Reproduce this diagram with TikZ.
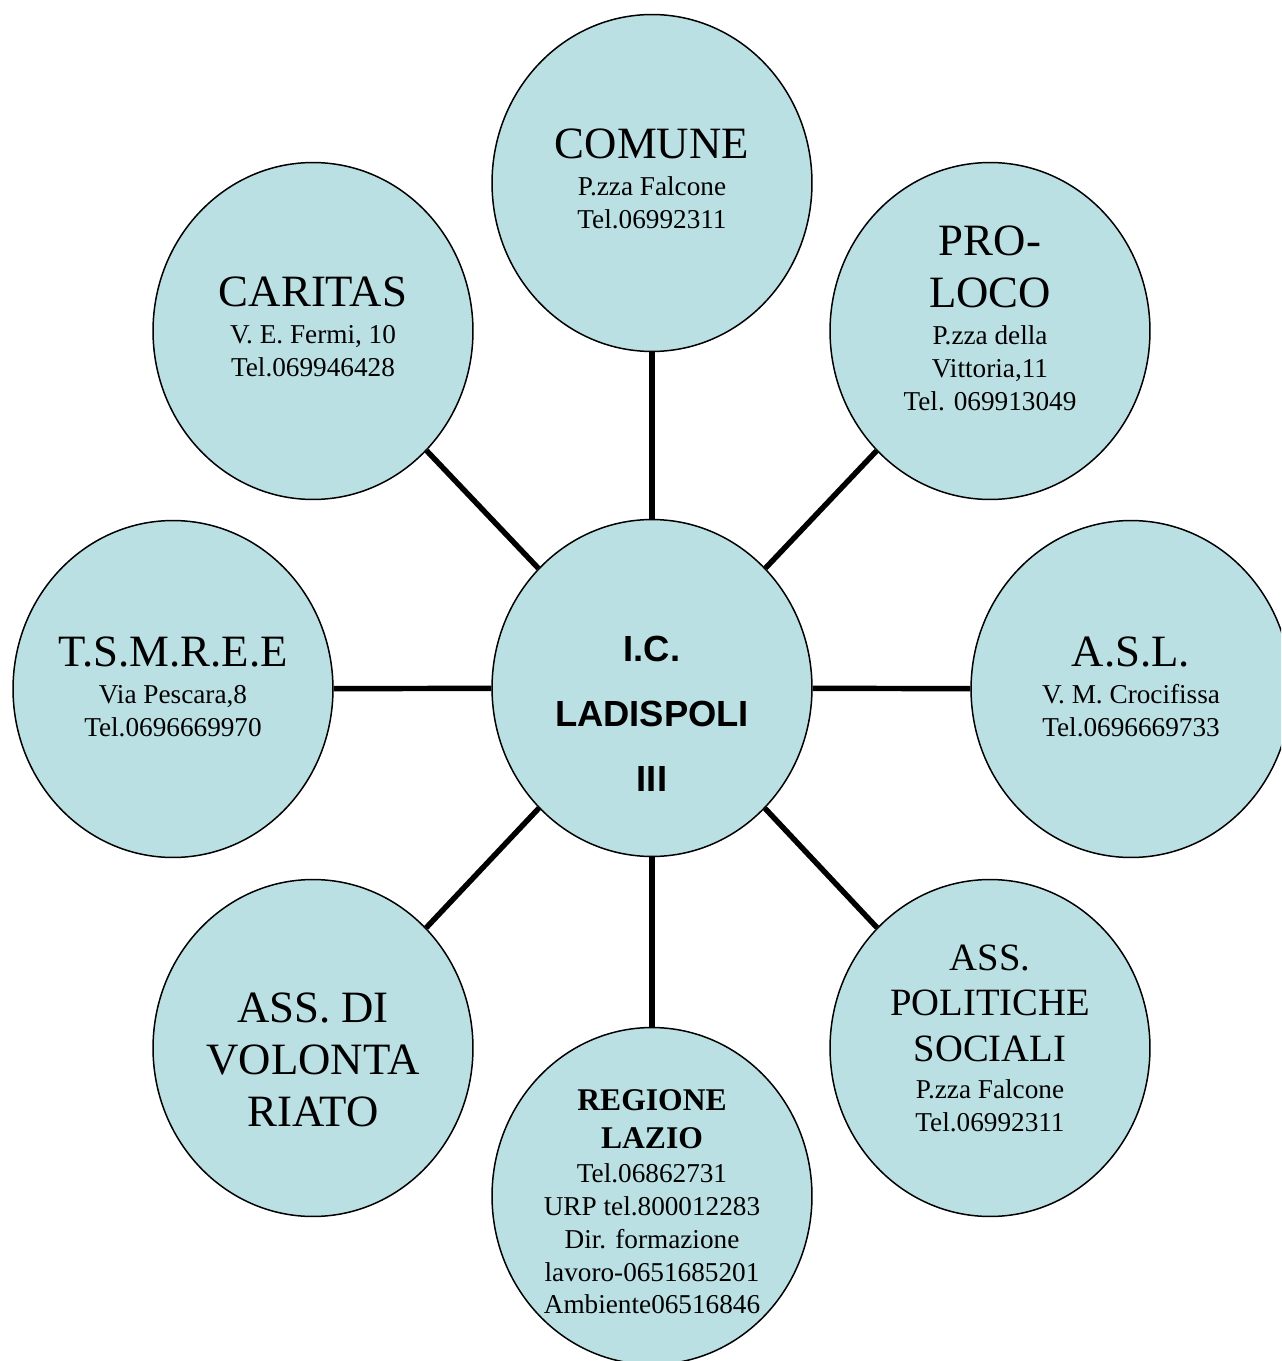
\documentclass[tikz,border=0pt]{standalone}
\usepackage{fontspec}
\setmainfont{Liberation Serif}
\newfontfamily\arial{Liberation Sans}
\usetikzlibrary{shapes.geometric}
\definecolor{acqua}{HTML}{BBE0E3}
\tikzset{
  bolla/.style={ellipse, draw, line width=0.85pt, fill=acqua, inner sep=0pt,
    minimum width=6.4cm, minimum height=6.74cm},
  testo/.style={align=center, inner sep=0pt, font=\fontsize{15.5}{18.7}\selectfont},
  legame/.style={line width=3.1pt}
}
\newcommand{\grande}[1]{{\fontsize{25.5}{29}\selectfont #1}}
\newcommand{\medio}[1]{{\fontsize{22}{26}\selectfont #1}}
\begin{document}
\begin{tikzpicture}[x=0.02cm, y=-0.02cm]
  \useasboundingbox (0,0) rectangle (1281,1361);
  \clip (0,0) rectangle (1281,1361);
  %bolle
  \node[bolla] (ic) at (652,688) {};
  \node[bolla] (comune) at (652,183) {};
  \node[bolla] (proloco) at (990,331) {};
  \node[bolla] (asl) at (1131,689) {};
  \node[bolla] (politiche) at (990,1048) {};
  \node[bolla] (regione) at (652,1196) {};
  \node[bolla] (volontariato) at (313,1048) {};
  \node[bolla] (tsmree) at (173,689) {};
  \node[bolla] (caritas) at (313,331) {};
  %collegamenti
  \draw[legame] (ic) -- (comune);
  \draw[legame] (ic) -- (proloco);
  \draw[legame] (ic) -- (asl);
  \draw[legame] (ic) -- (politiche);
  \draw[legame] (ic) -- (regione);
  \draw[legame] (ic) -- (volontariato);
  \draw[legame] (ic) -- (tsmree);
  \draw[legame] (ic) -- (caritas);
  %testi
  \node[testo, font=\arial\bfseries\fontsize{20.7}{37}\selectfont] (ic-t) at (652,714) {I.C.\\LADISPOLI\\III};
  \node[testo] (comune-t) at (652,179) {\grande{COMUNE}\\[2.3pt]P.zza Falcone\\Tel.06992311};
  \node[testo] (proloco-t) at (990,318) {\grande{PRO-}\\[11pt]\grande{LOCO}\\[2.3pt]P.zza della\\Vittoria,11\\Tel. 069913049};
  \node[testo] (asl-t) at (1131,687) {\grande{A.S.L.}\\[2.3pt]V. M. Crocifissa\\Tel.0696669733};
  \node[testo] (politiche-t) at (990,1038) {\medio{ASS.}\\[7.3pt]\medio{POLITICHE}\\[7.3pt]\medio{SOCIALI}\\[2.3pt]P.zza Falcone\\Tel.06992311};
  \node[testo] (regione-t) at (652,1202) {\textbf{\fontsize{18}{21}\selectfont REGIONE}\\[2.8pt]\textbf{\fontsize{18}{21}\selectfont LAZIO}\\[0.6pt]Tel.06862731\\URP tel.800012283\\Dir. formazione\\lavoro-0651685201\\Ambiente06516846};
  \node[testo] (volontariato-t) at (313,1060) {\grande{ASS. DI}\\[11pt]\grande{VOLONTA}\\[11pt]\grande{RIATO}};
  \node[testo] (tsmree-t) at (173,687) {\grande{T.S.M.R.E.E}\\[2.3pt]Via Pescara,8\\Tel.0696669970};
  \node[testo] (caritas-t) at (313,327) {\grande{CARITAS}\\[2.3pt]V. E. Fermi, 10\\Tel.069946428};
\end{tikzpicture}
\end{document}
